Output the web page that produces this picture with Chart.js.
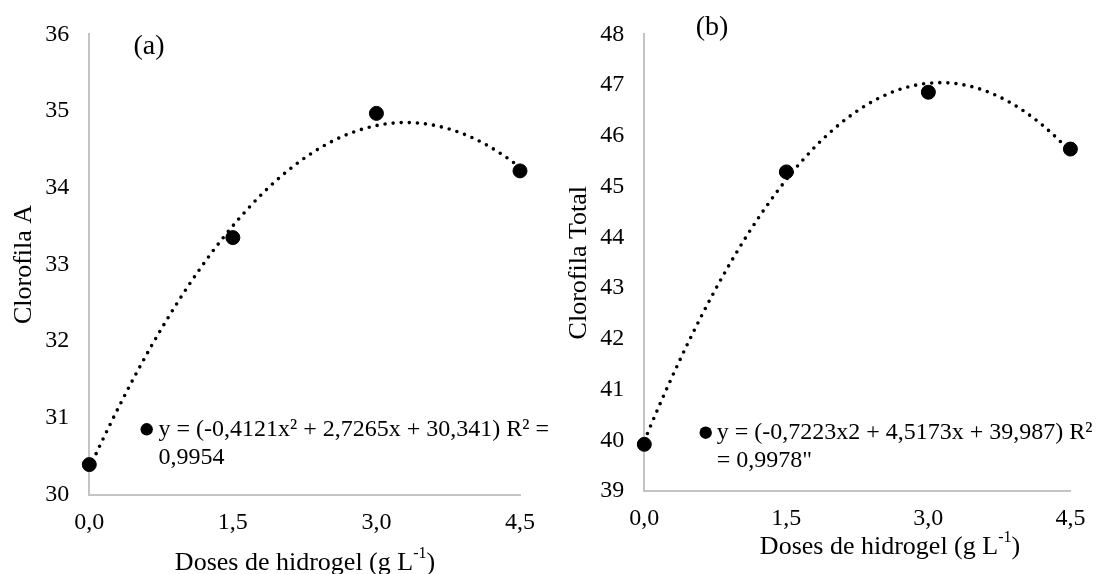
<!DOCTYPE html>
<html>
<head>
<meta charset="utf-8">
<script src="https://cdn.jsdelivr.net/npm/chart.js@4/dist/chart.umd.min.js"></script>
<style>
  html, body { margin: 0; padding: 0; background: #fff; }
  #wrap { position: relative; width: 1099px; height: 574px; overflow: hidden; background: #fff; }
  canvas { position: absolute; top: 0; }
</style>
</head>
<body>
<div id="wrap">
  <canvas id="chartA" width="565" height="574" style="left:0;width:565px;height:574px"></canvas>
  <canvas id="chartB" width="550" height="574" style="left:549px;width:550px;height:574px"></canvas>
</div>
<script>
// Hydrogel doses (g L-1) and their tick labels
const doses = [0, 1.5, 3.0, 4.5];
const doseLabels = ['0,0', '1,5', '3,0', '4,5'];

// Measured means
const clorofilaA = [30.39, 33.35, 34.97, 34.22];
const clorofilaTotal = [39.92, 45.29, 46.86, 45.74];

// Quadratic fit coefficients [a, b, c] of y = a x^2 + b x + c, as printed
const fitA = [-0.4121, 2.7265, 30.341];
const fitTotal = [-0.7223, 4.5173, 39.987];

// Equation labels
const eqA = ['y = (-0,4121x\u00B2 + 2,7265x + 30,341) R\u00B2 =', '0,9954'];
const eqTotal = ['y = (-0,7223x2 + 4,5173x + 39,987) R\u00B2', '= 0,9978"'];

const SERIF = '"Liberation Serif", "Times New Roman", serif';

// Trend curve through the fitted equation, sampled across the dose range
function trendPoints(coef) {
  const pts = [];
  const n = 90;
  for (let i = 0; i <= n; i++) {
    const x = doses[0] + (doses[doses.length - 1] - doses[0]) * i / n;
    pts.push({ x, y: coef[0] * x * x + coef[1] * x + coef[2] });
  }
  return pts;
}

// Panel tag, equation marker/label and x-axis title with superscript
const panelText = {
  id: 'panelText',
  afterDraw(chart, args, o) {
    const ctx = chart.ctx;
    ctx.save();
    ctx.fillStyle = '#000';

    ctx.font = o.tagSize + 'px ' + SERIF;
    ctx.textAlign = 'center';
    ctx.textBaseline = 'middle';
    ctx.fillText(o.tag, o.tagX, o.tagY);

    ctx.beginPath();
    ctx.arc(o.markX, o.markY, o.markR, 0, Math.PI * 2);
    ctx.fill();

    ctx.font = o.eqSize + 'px ' + SERIF;
    ctx.textAlign = 'left';
    o.eq.forEach((t, i) => ctx.fillText(t, o.eqX, o.markY + i * o.eqLine));

    // x-axis title: "Doses de hidrogel (g L" + superscript "-1" + ")"
    const main = 'Doses de hidrogel (g L', sup = '-1', tail = ')';
    const big = o.titleSize + 'px ' + SERIF;
    const small = Math.round(o.titleSize * 0.62) + 'px ' + SERIF;
    ctx.font = big;
    const w1 = ctx.measureText(main).width;
    const w3 = ctx.measureText(tail).width;
    ctx.font = small;
    const w2 = ctx.measureText(sup).width;
    let x = o.titleX - (w1 + w2 + w3) / 2;
    ctx.font = big;
    ctx.fillText(main, x, o.titleY);
    x += w1;
    ctx.font = small;
    ctx.fillText(sup, x, o.titleY - o.titleSize * 0.36);
    x += w2;
    ctx.font = big;
    ctx.fillText(tail, x, o.titleY);
    ctx.restore();
  }
};

function makeChart(id, values, coef, cfg) {
  return new Chart(document.getElementById(id), {
    type: 'scatter',
    data: {
      datasets: [
        {
          data: values.map((v, i) => ({ x: doses[i], y: v })),
          backgroundColor: '#000',
          borderColor: '#000',
          pointRadius: 7,
          pointHoverRadius: 7,
          clip: false,
          order: 0
        },
        {
          type: 'line',
          data: trendPoints(coef),
          showLine: true,
          borderColor: '#000',
          borderWidth: 3.6,
          borderDash: [0, 8.1],
          borderCapStyle: 'round',
          pointRadius: 0,
          tension: 0,
          fill: false,
          clip: false,
          order: 1
        }
      ]
    },
    options: {
      responsive: false,
      animation: false,
      devicePixelRatio: 1,
      layout: { padding: { left: 0, top: cfg.top, right: cfg.right, bottom: 0 } },
      plugins: {
        legend: { display: false },
        tooltip: { enabled: false },
        panelText: cfg.text
      },
      scales: {
        x: {
          type: 'linear',
          min: doses[0],
          max: doses[doses.length - 1],
          afterBuildTicks: s => { s.ticks = doses.map(v => ({ value: v })); },
          afterFit: s => { s.height = cfg.xHeight; },
          grid: { display: false, drawTicks: false },
          border: { display: true, color: '#c4c4c4', width: 2 },
          ticks: {
            color: '#000',
            padding: 13.6,
            maxRotation: 0,
            autoSkip: false,
            font: { family: SERIF, size: 24 },
            callback: (v, i) => doseLabels[i]
          }
        },
        y: {
          min: cfg.yMin,
          max: cfg.yMax,
          afterFit: s => { s.width = cfg.yWidth; },
          grid: { display: false, drawTicks: false },
          border: { display: true, color: '#c4c4c4', width: 2 },
          ticks: {
            stepSize: 1,
            color: '#000',
            padding: 20,
            font: { family: SERIF, size: 24 }
          },
          title: {
            display: true,
            text: cfg.yTitle,
            color: '#000',
            font: { family: SERIF, size: 26 },
            padding: { top: cfg.yTitlePad, bottom: 0 }
          }
        }
      }
    },
    plugins: [panelText]
  });
}

makeChart('chartA', clorofilaA, fitA, {
  top: 29.5, right: 45, xHeight: 79.5, yWidth: 89.3,
  yMin: 30, yMax: 36, yTitle: 'Clorofila A', yTitlePad: 8.9,
  text: {
    tag: '(a)', tagSize: 28, tagX: 149, tagY: 47,
    markX: 146.7, markY: 429.3, markR: 6.2,
    eq: eqA, eqSize: 24, eqX: 158.5, eqLine: 28,
    titleSize: 26, titleX: 305, titleY: 563
  }
});

makeChart('chartB', clorofilaTotal, fitTotal, {
  top: 22.5, right: 18, xHeight: 83, yWidth: 95.3,
  yMin: 39, yMax: 48, yTitle: 'Clorofila Total', yTitlePad: 14.4,
  text: {
    tag: '(b)', tagSize: 28, tagX: 163, tagY: 28,
    markX: 156.7, markY: 432.7, markR: 6.2,
    eq: eqTotal, eqSize: 24, eqX: 167.7, eqLine: 28,
    titleSize: 26, titleX: 341, titleY: 546.7
  }
});
</script>
</body>
</html>
